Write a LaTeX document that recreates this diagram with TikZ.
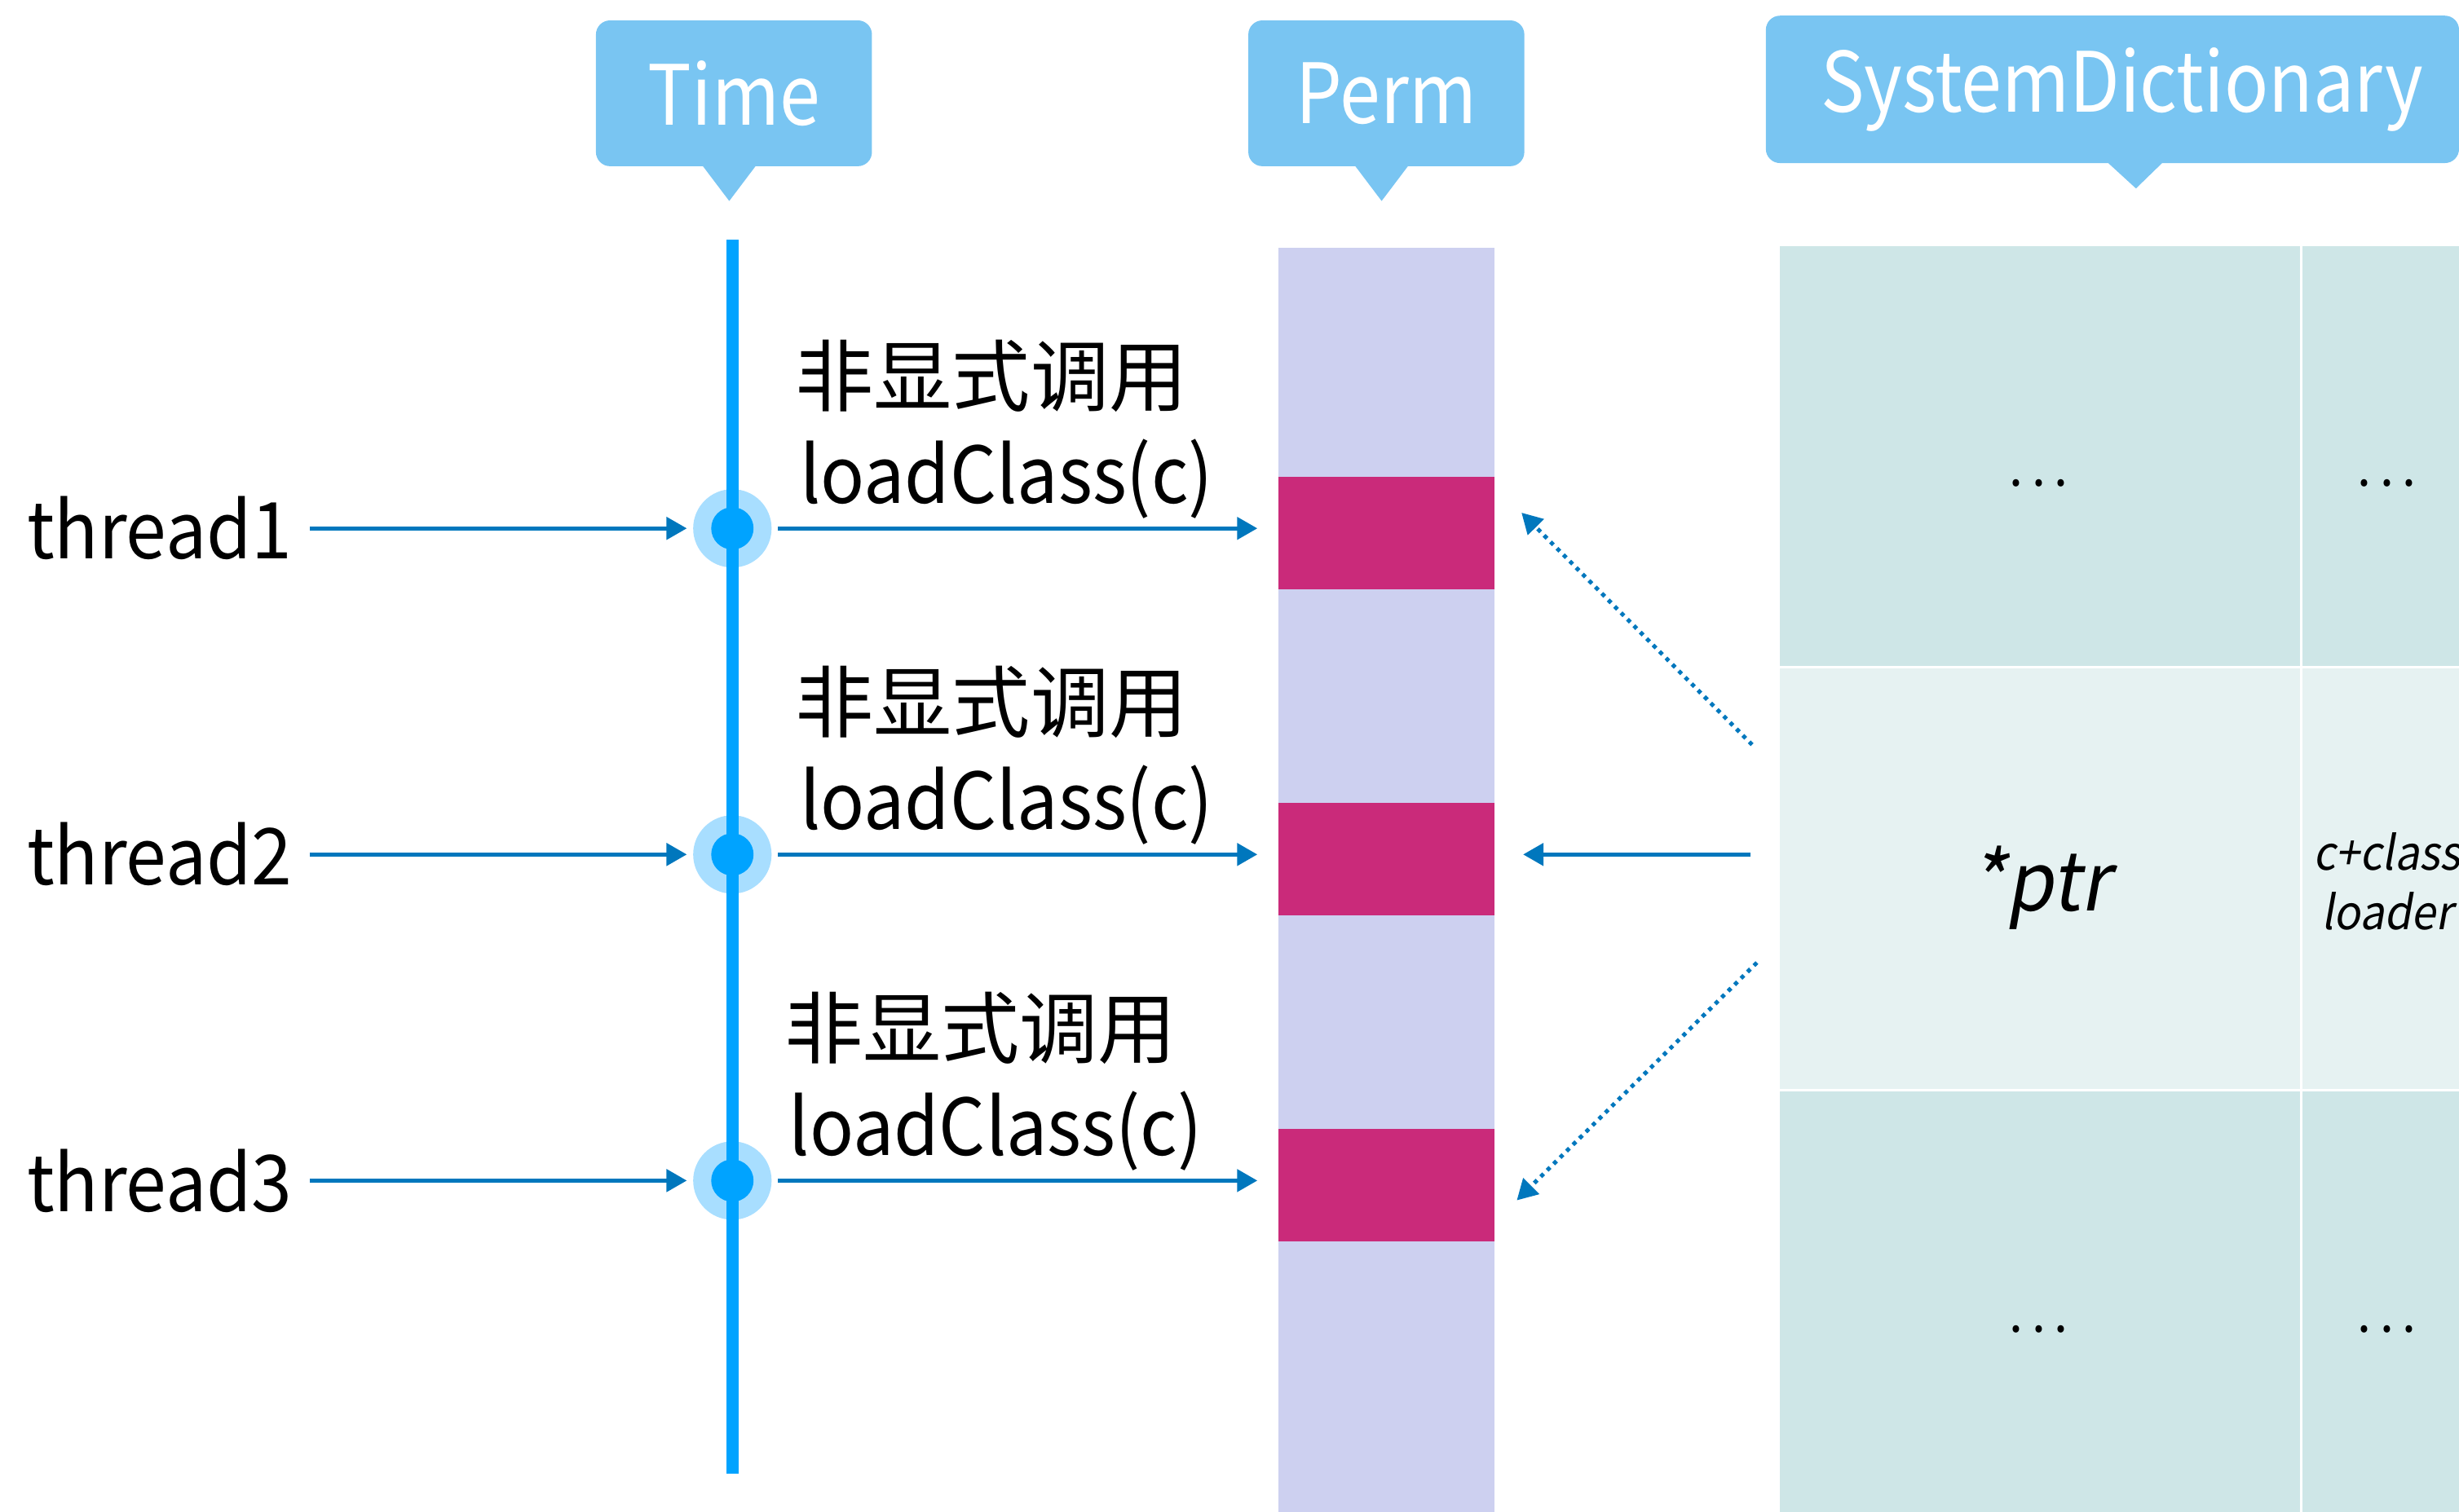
\documentclass[tikz,border=0pt]{standalone}
\usepackage{fontspec}
\setmainfont{Noto Sans CJK SC}
\newfontfamily\latinfont[FakeStretch=0.93]{Noto Sans CJK SC}
\newfontfamily\tagfont[FakeStretch=0.88]{Noto Sans CJK SC}
\newfontfamily\slantfont[FakeSlant=0.18,FakeStretch=0.93]{Noto Sans CJK SC}
\usetikzlibrary{positioning,arrows.meta,calc}

\definecolor{tagblue}{HTML}{79C5F2}
\definecolor{axisblue}{HTML}{00A3FF}
\definecolor{haloblue}{HTML}{A8DEFF}
\definecolor{linkblue}{HTML}{0077BD}
\definecolor{permbg}{HTML}{CDD0F0}
\definecolor{slotred}{HTML}{CA2A7A}
\definecolor{celldark}{HTML}{CEE6E7}
\definecolor{celllight}{HTML}{E6F2F2}

\begin{document}
\begin{tikzpicture}[x=1pt, y=-1pt,
    tag/.style={fill=tagblue, rounded corners=9pt, text=white, inner sep=0pt, font=\tagfont\fontsize{53}{60}\selectfont},
    thread/.style={anchor=west, inner sep=0pt, font=\latinfont\fontsize{50}{60}\selectfont},
    hint/.style={anchor=west, inner sep=0pt, font=\fontsize{50}{60}\selectfont},
    call/.style={anchor=base west, inner sep=0pt, font=\latinfont\fontsize{50}{60}\selectfont},
    halo/.style={circle, fill=haloblue, minimum size=50pt, inner sep=0pt, outer sep=4pt},
    slot/.style={fill=slotred, minimum width=138pt, minimum height=72pt, inner sep=0pt},
    cell/.style={draw=white, line width=1.5pt, inner sep=0pt},
    dots/.style={anchor=base, inner sep=0pt, font=\latinfont\fontsize{34}{40}\selectfont},
    flow/.style={draw=linkblue, line width=2.8pt, -{Triangle[length=13pt, width=14pt]}},
    lookup/.style={flow, line width=2.6pt, dash pattern=on 2.6pt off 3.2pt}
]
\useasboundingbox (0,0) rectangle (1568,964);
\clip (0,0) rectangle (1568,964);

% headers
\node[tag, minimum width=176pt, minimum height=93pt] (time) at (468,59.5) {Time};
\fill[tagblue] ([xshift=-20pt,yshift=0.5pt]time.south) -- ([xshift=14pt,yshift=0.5pt]time.south)
    -- ([xshift=-3pt,yshift=-22pt]time.south) -- cycle;
\node[tag, minimum width=176pt, minimum height=93pt] (perm) at (884,59.5) {Perm};
\fill[tagblue] ([xshift=-20pt,yshift=0.5pt]perm.south) -- ([xshift=14pt,yshift=0.5pt]perm.south)
    -- ([xshift=-3pt,yshift=-22pt]perm.south) -- cycle;
\node[tag, minimum width=442pt, minimum height=94pt] (dict) at (1347,57) {\hspace{12pt}SystemDictionary};
\fill[tagblue] ([xshift=-3pt,yshift=0.5pt]dict.south) -- ([xshift=32pt,yshift=0.5pt]dict.south)
    -- ([xshift=15pt,yshift=-16pt]dict.south) -- cycle;

% perm space
\fill[permbg] (815,158) rectangle (953,980);
\node[slot] (slot1) at (884,340) {};
\node[slot] (slot2) at (884,548) {};
\node[slot] (slot3) at (884,756) {};

% dictionary table
\node[cell, fill=celldark, minimum width=333.5pt, minimum height=269.5pt] (c11) at (1300.75,290.75) {};
\node[cell, fill=celldark, minimum width=110.5pt, minimum height=269.5pt] (c12) at (1522.75,290.75) {};
\node[cell, fill=celllight, minimum width=333.5pt, minimum height=270pt, text depth=0pt,
      font=\slantfont\fontsize{52}{60}\selectfont] (ptr) at (1300.75,560.5) {*ptr};
\node[cell, fill=celllight, minimum width=110.5pt, minimum height=270pt] (c22) at (1522.75,560.5) {};
\node[cell, fill=celldark, minimum width=333.5pt, minimum height=304.5pt] (c31) at (1300.75,847.75) {};
\node[cell, fill=celldark, minimum width=110.5pt, minimum height=304.5pt] (c32) at (1522.75,847.75) {};
\node[dots] (d11) at (1300,310) {.\,.\,.};
\node[dots] (d12) at (1522,310) {.\,.\,.};
\node[dots] (d31) at (1300,850) {.\,.\,.};
\node[dots] (d32) at (1522,850) {.\,.\,.};
\node[align=center, inner sep=0pt, font=\slantfont\fontsize{30}{38}\selectfont] (key) at (1522,562) {c+class\\loader};

% time axis
\node[halo] (dot1) at (467,337) {};
\node[halo] (dot2) at (467,545) {};
\node[halo] (dot3) at (467,753) {};
\draw[axisblue, line width=8pt] (467,153) -- (467,940);
\fill[axisblue] (dot1) circle (13.5pt);
\fill[axisblue] (dot2) circle (13.5pt);
\fill[axisblue] (dot3) circle (13.5pt);

% threads
\node[thread] (thread1) at (17,337) {thread1};
\node[thread] (thread2) at (17,545) {thread2};
\node[thread] (thread3) at (17,753) {thread3};

\node[hint] (hint1) at (507,240) {非显式调用};
\node[call] (load1) at (510,321) {loadClass(c)};
\node[hint] (hint2) at (507,448) {非显式调用};
\node[call] (load2) at (510,529) {loadClass(c)};
\node[hint] (hint3) at (500,656) {非显式调用};
\node[call] (load3) at (503,737) {loadClass(c)};

\draw[flow, shorten <=11pt] (thread1.east) -- (dot1);
\draw[flow, shorten <=11pt] (thread2.east) -- (dot2);
\draw[flow, shorten <=11pt] (thread3.east) -- (dot3);
\draw[flow, shorten >=13pt] (dot1) -- (dot1 -| slot1.west);
\draw[flow, shorten >=13pt] (dot2) -- (dot2 -| slot2.west);
\draw[flow, shorten >=13pt] (dot3) -- (dot3 -| slot3.west);

% pointer lookups
\draw[lookup] ([xshift=-16pt,yshift=85.5pt]ptr.west) -- ([xshift=17pt,yshift=13pt]slot1.east);
\draw[flow] ([xshift=-17pt,yshift=15.5pt]ptr.west) -- ([xshift=18pt,yshift=3pt]slot2.east);
\draw[lookup] ([xshift=-13pt,yshift=-53.5pt]ptr.west) -- ([xshift=14pt,yshift=-9.6pt]slot3.east);
\end{tikzpicture}
\end{document}
